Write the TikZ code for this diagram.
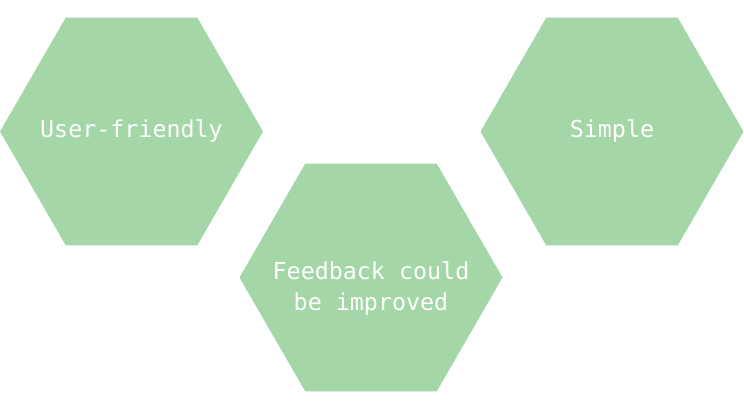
\documentclass[tikz,border=0pt]{standalone}
\usepackage{xcolor}
\usepackage{fontspec}
\usepackage{tikz}
\usetikzlibrary{shapes.geometric}
\newfontfamily\hexfont{DejaVu Sans Mono}
\definecolor{hexgreen}{HTML}{A5D6A7}

\begin{document}
\begin{tikzpicture}[x=0.75pt,y=-0.75pt]
\useasboundingbox (0,0) rectangle (744,410);
\tikzstyle{hextext}=[text=white,align=center,font=\hexfont\fontsize{17.5}{23.5}\selectfont];
\tikzstyle{hexa}=[regular polygon,regular polygon sides=6,minimum size=197.25pt,inner sep=-40pt,outer sep=0pt,fill=hexgreen,hextext];

\node[hexa] (friendly)at(131.5,131.5) {User-friendly};
\node[hexa,label={[hextext,yshift=-8pt]center:Feedback could\\be improved}] (feedback)at(371,277.5) {};
\node[hexa] (simple)at(612,131.5) {Simple};
\end{tikzpicture}
\end{document}
